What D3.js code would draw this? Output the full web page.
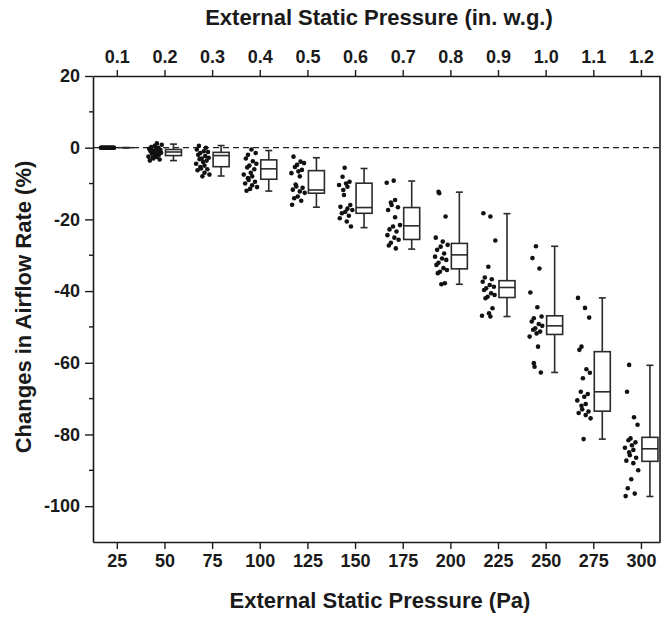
<!DOCTYPE html>
<html>
<head>
<meta charset="utf-8">
<script src="https://cdn.jsdelivr.net/npm/d3@7"></script>
<style>
  html, body { margin: 0; padding: 0; background: #fff; }
  svg text { font-family: "Liberation Sans", Arial, sans-serif; font-weight: bold; fill: #1a1a1a; }
</style>
</head>
<body>
<svg id="chart" width="662" height="619"></svg>
<script>
// ---------- DATA ----------
const pressurePa = [25, 50, 75, 100, 125, 150, 175, 200, 225, 250, 275, 300];
const pressureInWG = ["0.1", "0.2", "0.3", "0.4", "0.5", "0.6", "0.7", "0.8", "0.9", "1.0", "1.1", "1.2"];
const yTicksMajor = [-100, -80, -60, -40, -20, 0, 20];

// box statistics: [whiskerLow, q1, median, q3, whiskerHigh]
const boxStats = [
  [0, 0, 0, 0, 0],
  [-3.6, -2.2, -1.2, -0.5, 1.0],
  [-7.9, -5.3, -2.2, -1.3, 0.6],
  [-12.1, -8.8, -5.9, -3.4, -0.8],
  [-16.6, -12.7, -11.8, -6.4, -2.8],
  [-22.3, -18.3, -16.7, -9.9, -5.8],
  [-28.3, -25.6, -21.8, -16.7, -9.3],
  [-38.1, -33.8, -29.9, -26.7, -12.4],
  [-47.1, -41.8, -39.0, -37.1, -18.4],
  [-62.7, -52.1, -49.7, -46.9, -27.5],
  [-81.3, -73.5, -68.1, -56.9, -41.9],
  [-97.3, -87.5, -84.0, -80.8, -60.7]
];

// individual observations (% change in airflow)
const obs25 = [0,0,0,0,0,0,0,0,0,0,0,0,0,0,0,0,0,0,0,0];
const obs50 = [1.2, 0.8, 0.5, 0.2, 0, -0.3, -0.5, -0.6, -0.8, -1.0, -1.2, -1.4, -1.5, -1.7, -2.0, -2.2, -2.5, -2.6, -2.8, -3.0, -3.3, -3.6];
const obs75 = [0.5, 0, -0.5, -1, -1.2, -1.5, -2, -2.3, -2.8, -3, -3.2, -3.6, -4, -4.5, -5, -5.4, -5.8, -6, -6.3, -7, -7.5, -8];
const obs100 = [-0.5, -1.5, -2, -3, -3.8, -4.5, -5, -5.5, -6, -7, -7.5, -8, -8.5, -9, -9.5, -10, -10.5, -11, -11.5, -12];
const obs125 = [-2.5, -3.9, -4.3, -4.8, -5.4, -6.2, -6.6, -7.1, -8.0, -10.3, -10.8, -11.2, -11.7, -12.2, -12.6, -13.6, -14.1, -14.8, -15.9];
const obs150 = [-5.6, -8.1, -9.5, -10, -10.4, -10.9, -11.8, -13.2, -16.0, -16.5, -17.0, -17.4, -17.9, -18.3, -19.0, -19.7, -20.6, -22.0];
const obs175 = [-9.2, -9.8, -14.6, -15.3, -16.0, -16.6, -17.4, -19.4, -21.6, -22.0, -22.8, -23.4, -24.4, -25.1, -25.7, -26.5, -27.3, -28.1];
const obs200 = [-12.3, -12.7, -19.2, -25.1, -26.2, -27.1, -27.6, -28.5, -29.5, -30.4, -30.9, -31.3, -32.1, -32.7, -33.6, -34.1, -34.6, -35.0, -37.8, -38.1];
const obs225 = [-18.3, -19.2, -25.9, -33.2, -36.2, -36.7, -37.4, -38.3, -38.8, -39.2, -39.7, -40.6, -41.1, -41.6, -42.0, -44.8, -46.2, -46.9, -47.1];
const obs250 = [-27.5, -30.8, -33.7, -40.4, -44.5, -47.1, -47.6, -48.5, -49.2, -49.7, -50.4, -50.8, -51.3, -51.8, -52.7, -55.5, -60.1, -61.1, -62.7];
const obs275 = [-41.9, -44.7, -47.4, -55.5, -56.4, -61.8, -62.8, -64.3, -68.1, -68.7, -69.5, -70.5, -71.5, -72.0, -73.0, -73.6, -74.0, -74.6, -75.5, -81.3];
const obs300 = [-60.6, -68.1, -75.2, -77.3, -81.1, -81.6, -82.2, -83, -83.7, -84.3, -85, -85.8, -86.5, -87.3, -88, -90, -92.5, -95, -96.5, -97.2];
const observations = [obs25, obs50, obs75, obs100, obs125, obs150, obs175, obs200, obs225, obs250, obs275, obs300];

// ---------- CHART ----------
const svg = d3.select("#chart");
const mLeft = 93, mRight = 660, mTop = 76, mBottom = 542;

const x = d3.scaleLinear().domain([12.5, 310]).range([mLeft, mRight]);
const y = d3.scaleLinear().domain([-110, 20]).range([mBottom, mTop]);

const axisColor = "#1a1a1a";

// zero reference dashed line
svg.append("line")
  .attr("x1", mLeft).attr("x2", mRight)
  .attr("y1", y(0)).attr("y2", y(0))
  .attr("stroke", "#222").attr("stroke-width", 1.3)
  .attr("stroke-dasharray", "6,4");

// points (jittered to the left of each category, fixed jitter pattern)
const jitterPattern = [0.35, 0.8, 0.1, 0.6, 0.95, 0.45, 0.2, 0.7, 0.05, 0.55, 0.85, 0.3, 0.15, 0.65, 0.9, 0.4, 0.25, 0.75, 0.5, 0.0, 0.6, 0.3];
const boxOffset = 9, boxW = 16, capW = 7;
observations.forEach((vals, gi) => {
  const cx = x(pressurePa[gi]);
  svg.append("g").selectAll("circle")
    .data(vals)
    .enter().append("circle")
    .attr("cx", (d, i) => cx - 16 + 14 * jitterPattern[(i + gi * 3) % jitterPattern.length])
    .attr("cy", d => y(d))
    .attr("r", 2.3)
    .attr("fill", "#111");
});

// boxes
boxStats.forEach((s, gi) => {
  const bx = x(pressurePa[gi]) + boxOffset;
  const g = svg.append("g").attr("stroke", "#2a2a2a").attr("stroke-width", 1.6).attr("fill", "none");
  const [wl, q1, med, q3, wh] = s;
  g.append("line").attr("x1", bx).attr("x2", bx).attr("y1", y(wh)).attr("y2", y(q3));
  g.append("line").attr("x1", bx).attr("x2", bx).attr("y1", y(q1)).attr("y2", y(wl));
  g.append("line").attr("x1", bx - capW / 2).attr("x2", bx + capW / 2).attr("y1", y(wh)).attr("y2", y(wh));
  g.append("line").attr("x1", bx - capW / 2).attr("x2", bx + capW / 2).attr("y1", y(wl)).attr("y2", y(wl));
  g.append("rect").attr("x", bx - boxW / 2).attr("width", boxW)
    .attr("y", y(q3)).attr("height", Math.max(0, y(q1) - y(q3)));
  g.append("line").attr("x1", bx - boxW / 2).attr("x2", bx + boxW / 2).attr("y1", y(med)).attr("y2", y(med));
});

// axes
function styleAxis(g) {
  g.selectAll("path.domain").attr("stroke", axisColor).attr("stroke-width", 1.6);
  g.selectAll(".tick line").attr("stroke", axisColor).attr("stroke-width", 1.4);
  g.selectAll(".tick text").attr("font-size", 18).attr("font-family", "Liberation Sans, Arial, sans-serif")
    .attr("font-weight", "bold").attr("fill", "#1a1a1a");
}
const intFmt = d => String(d);  // plain hyphen-minus

const xBottom = svg.append("g").attr("transform", `translate(0,${mBottom})`)
  .call(d3.axisBottom(x).tickValues(pressurePa).tickSize(7).tickSizeOuter(0).tickPadding(5).tickFormat(intFmt));
styleAxis(xBottom);

const xTop = svg.append("g").attr("transform", `translate(0,${mTop})`)
  .call(d3.axisTop(x).tickValues(pressurePa).tickSize(6).tickSizeOuter(0).tickPadding(7)
    .tickFormat((d, i) => pressureInWG[i]));
styleAxis(xTop);

const yLeft = svg.append("g").attr("transform", `translate(${mLeft},0)`)
  .call(d3.axisLeft(y).tickValues(yTicksMajor).tickSize(8).tickSizeOuter(0).tickPadding(5).tickFormat(intFmt));
styleAxis(yLeft);

// minor ticks on left axis
const minor = d3.range(-110, 21, 10).filter(v => !yTicksMajor.includes(v) && v > -110);
svg.append("g").selectAll("line").data(minor).enter().append("line")
  .attr("x1", mLeft - 4).attr("x2", mLeft)
  .attr("y1", d => y(d)).attr("y2", d => y(d))
  .attr("stroke", axisColor).attr("stroke-width", 1.4);

// right border
svg.append("line").attr("x1", mRight).attr("x2", mRight).attr("y1", mTop).attr("y2", mBottom)
  .attr("stroke", axisColor).attr("stroke-width", 1.6);

// titles
svg.append("text").attr("x", 379).attr("y", 25).attr("text-anchor", "middle")
  .attr("font-size", 22).text("External Static Pressure (in. w.g.)");
svg.append("text").attr("x", 380).attr("y", 608).attr("text-anchor", "middle")
  .attr("font-size", 22).text("External Static Pressure (Pa)");
svg.append("text").attr("transform", "translate(31,307) rotate(-90)").attr("text-anchor", "middle")
  .attr("font-size", 22).text("Changes in Airflow Rate (%)");
</script>
</body>
</html>
